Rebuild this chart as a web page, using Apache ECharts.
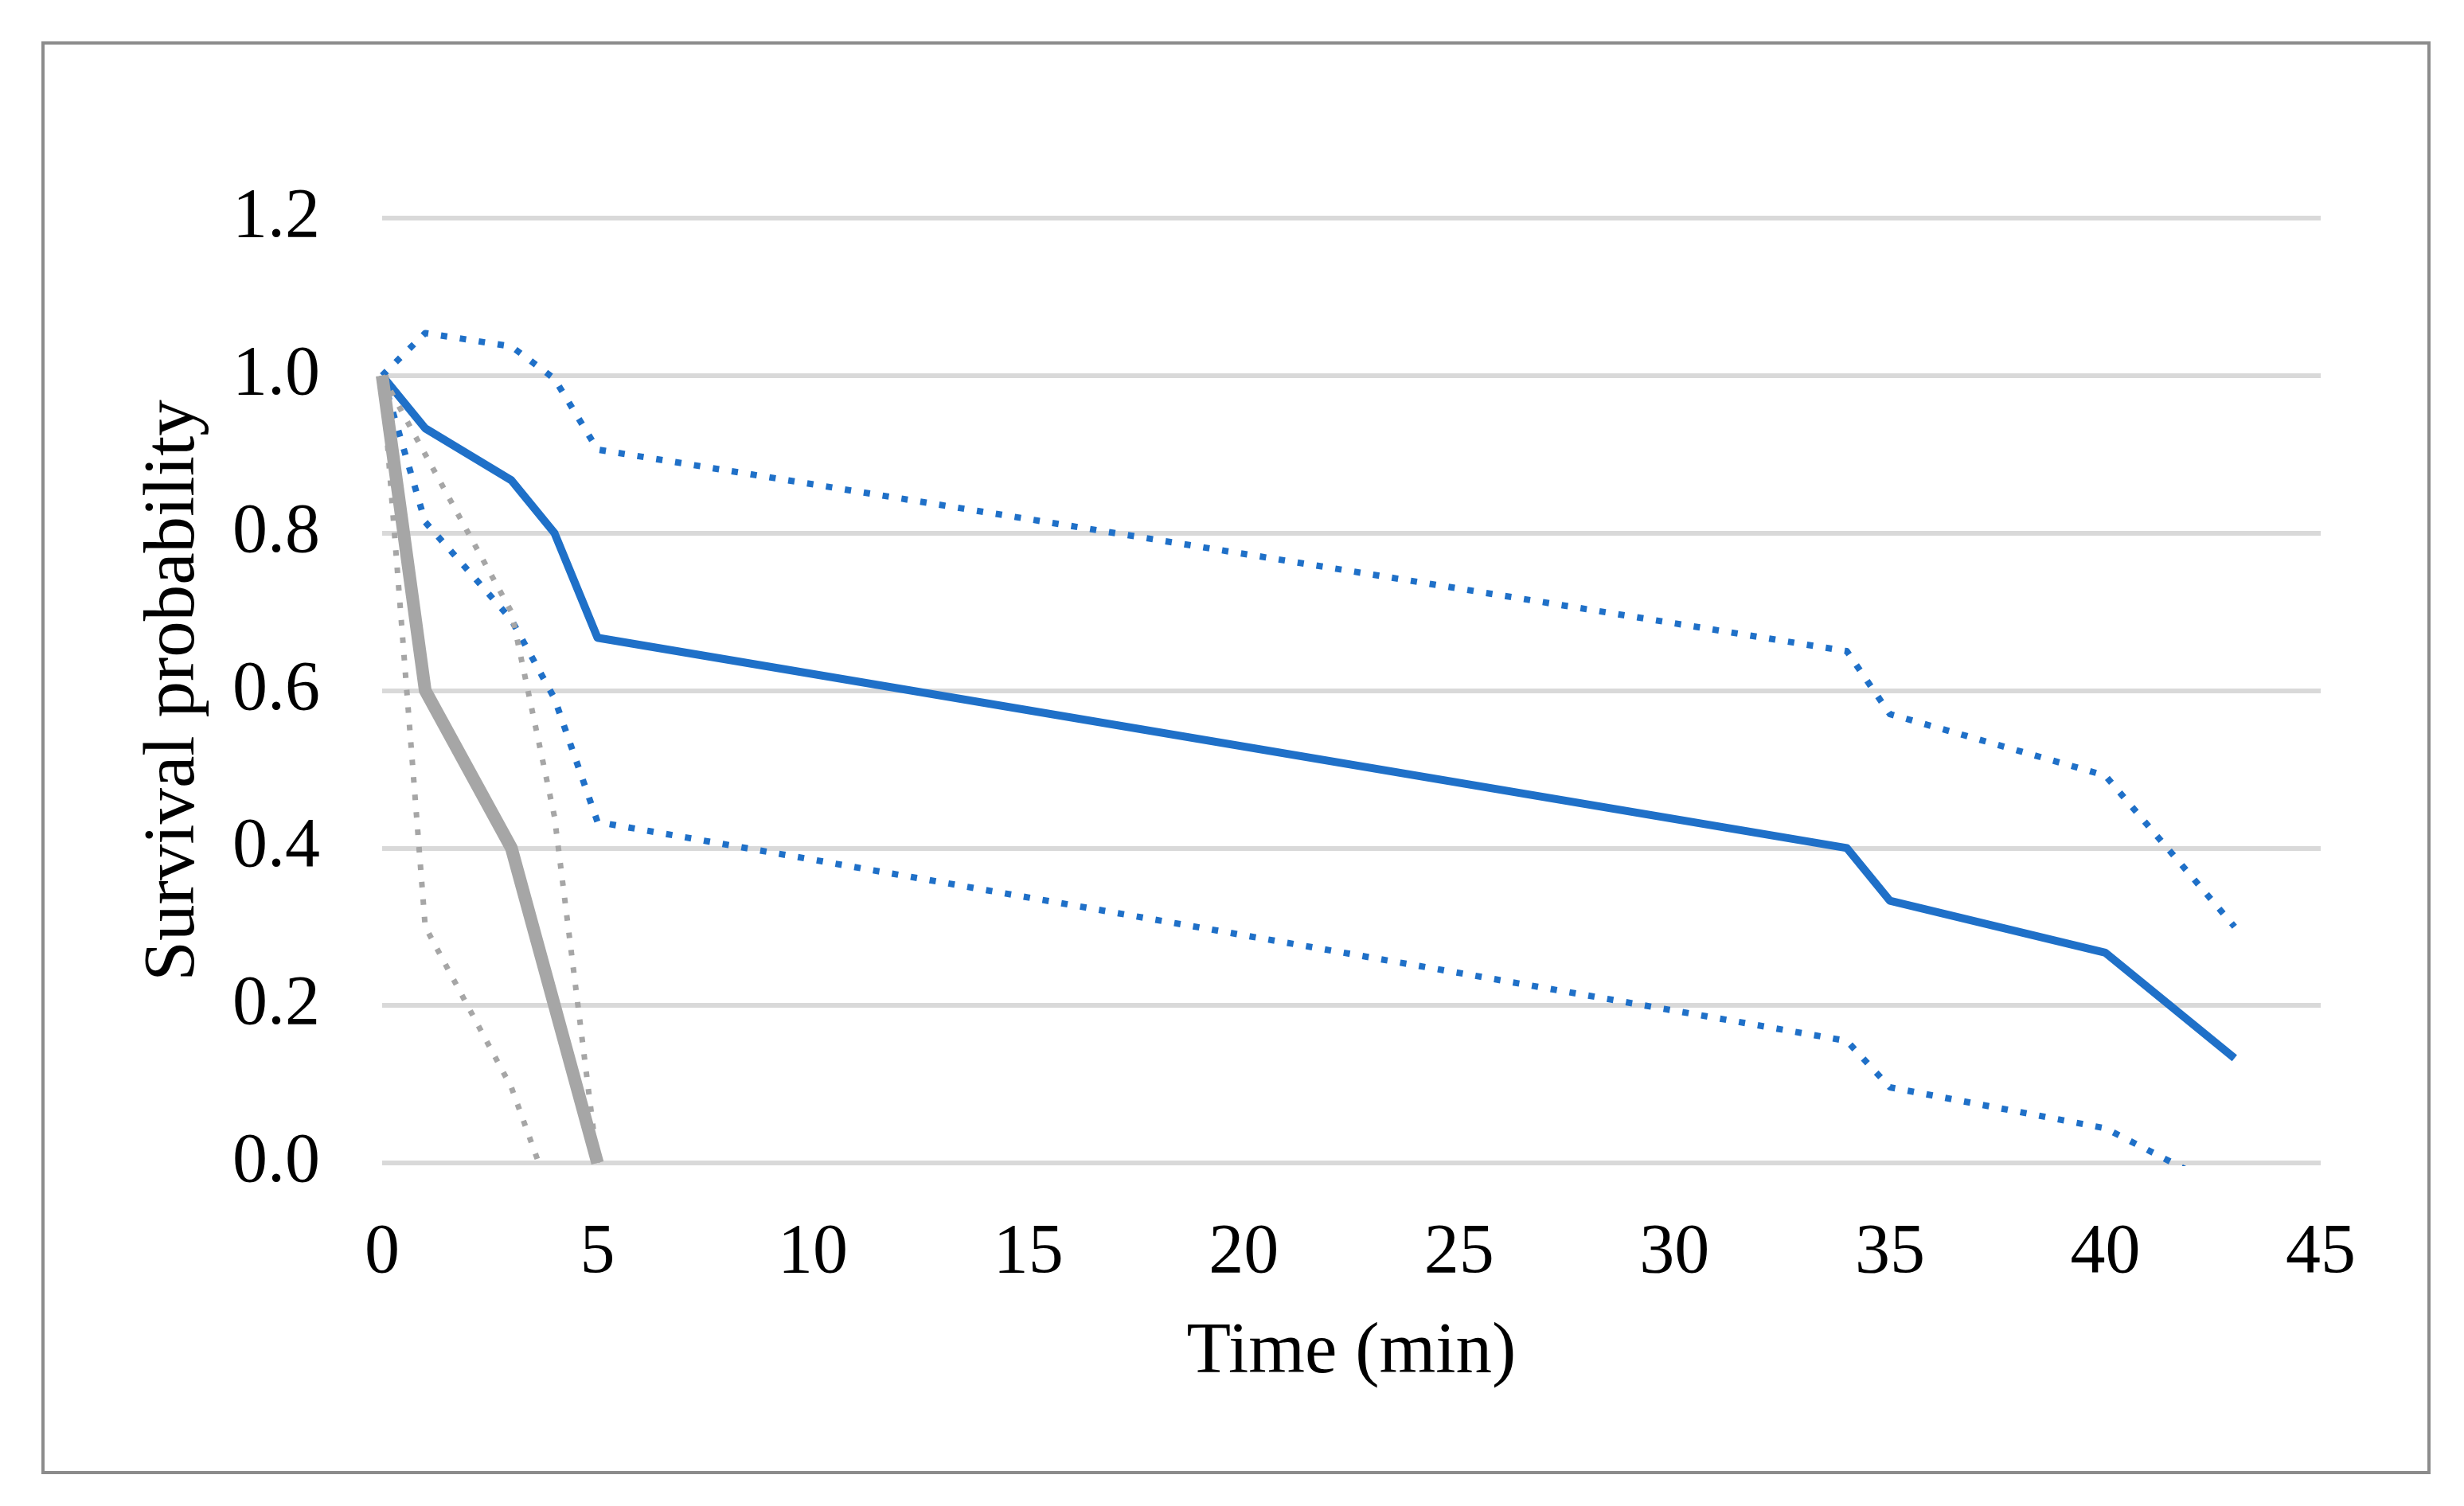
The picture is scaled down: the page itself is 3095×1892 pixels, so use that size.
<!DOCTYPE html>
<html lang="en">
<head>
    <meta charset="UTF-8">
    <title>Survival probability</title>
    <style>
        html, body { margin: 0; padding: 0; background: #fff; }
        #main { width: 3095px; height: 1892px; }
    </style>
</head>
<script src="https://cdn.jsdelivr.net/npm/echarts@6/dist/echarts.min.js"></script>
<body>
    <div id="main"></div>
    <script>
        // time points (min)
        var blueTimes = [0, 1, 3, 4, 5, 34, 35, 40, 43];
        var grayTimes = [0, 1, 3, 4, 5];

        // survival estimates and CI bounds
        var blueSurv  = [1.0, 0.933, 0.867, 0.8, 0.667, 0.4, 0.333, 0.267, 0.133];
        var blueUpper = [1.0, 1.054, 1.037, 0.996, 0.906, 0.65, 0.57, 0.492, 0.3];
        var blueLower = [1.0, 0.814, 0.69, 0.59, 0.433, 0.155, 0.096, 0.044, -0.04];

        var graySurv  = [1.0, 0.6, 0.4, 0.2, 0.0];
        var grayUpper = [1.0, 0.9, 0.7, 0.44, 0.0];
        var grayLower = [1.0, 0.3, 0.096, -0.055];

        var yTicks = [0, 0.2, 0.4, 0.6, 0.8, 1.0, 1.2];

        var font = "'Liberation Serif', 'Times New Roman', serif";
        var blue = '#1f70c8';
        var gray = '#a6a6a6';

        function pairs(times, vals) {
            return vals.map(function (v, i) { return [times[i], v]; });
        }

        function line(name, data, color, width, dash) {
            return {
                name: name,
                type: 'line',
                data: data,
                symbol: 'none',
                clip: true,
                lineStyle: { color: color, width: width, type: dash || 'solid', cap: 'butt', join: 'round' }
            };
        }

        var myChart = echarts.init(document.getElementById('main'));
        myChart.setOption({
            animation: false,
            backgroundColor: '#fff',
            textStyle: { fontFamily: font },
            graphic: [{
                type: 'rect',
                shape: { x: 54, y: 54, width: 2997, height: 1796 },
                style: { fill: 'none', stroke: '#8c8c8c', lineWidth: 4 },
                z: -1
            }],
            grid: { left: 480, right: 180, top: 274, bottom: 431, containLabel: false },
            xAxis: {
                type: 'value',
                min: 0, max: 45, interval: 5,
                name: 'Time (min)',
                nameLocation: 'middle',
                nameGap: 194,
                nameTextStyle: { fontFamily: font, fontSize: 91, color: '#000' },
                axisLine: { show: false },
                axisTick: { show: false },
                splitLine: { show: false },
                axisLabel: { fontFamily: font, fontSize: 88, color: '#000', margin: 70 }
            },
            yAxis: {
                type: 'value',
                min: yTicks[0], max: yTicks[yTicks.length - 1], interval: 0.2,
                name: 'Survival probability',
                nameLocation: 'middle',
                nameGap: 215,
                nameTextStyle: { fontFamily: font, fontSize: 91, color: '#000' },
                axisLine: { show: false },
                axisTick: { show: false },
                splitLine: { lineStyle: { color: '#d9d9d9', width: 6 } },
                axisLabel: {
                    fontFamily: font, fontSize: 88, color: '#000', margin: 78,
                    formatter: function (v) { return v.toFixed(1); }
                }
            },
            series: [
                line('Upper CI', pairs(blueTimes, blueUpper), blue, 8, [8, 16]),
                line('Lower CI', pairs(blueTimes, blueLower), blue, 8, [8, 16]),
                line('Survival', pairs(blueTimes, blueSurv), blue, 10),
                line('Upper CI (2)', pairs(grayTimes, grayUpper), gray, 7, [7, 15]),
                line('Lower CI (2)', pairs(grayTimes, grayLower), gray, 7, [7, 15]),
                line('Survival (2)', pairs(grayTimes, graySurv), gray, 16)
            ]
        });
    </script>
</body>
</html>
